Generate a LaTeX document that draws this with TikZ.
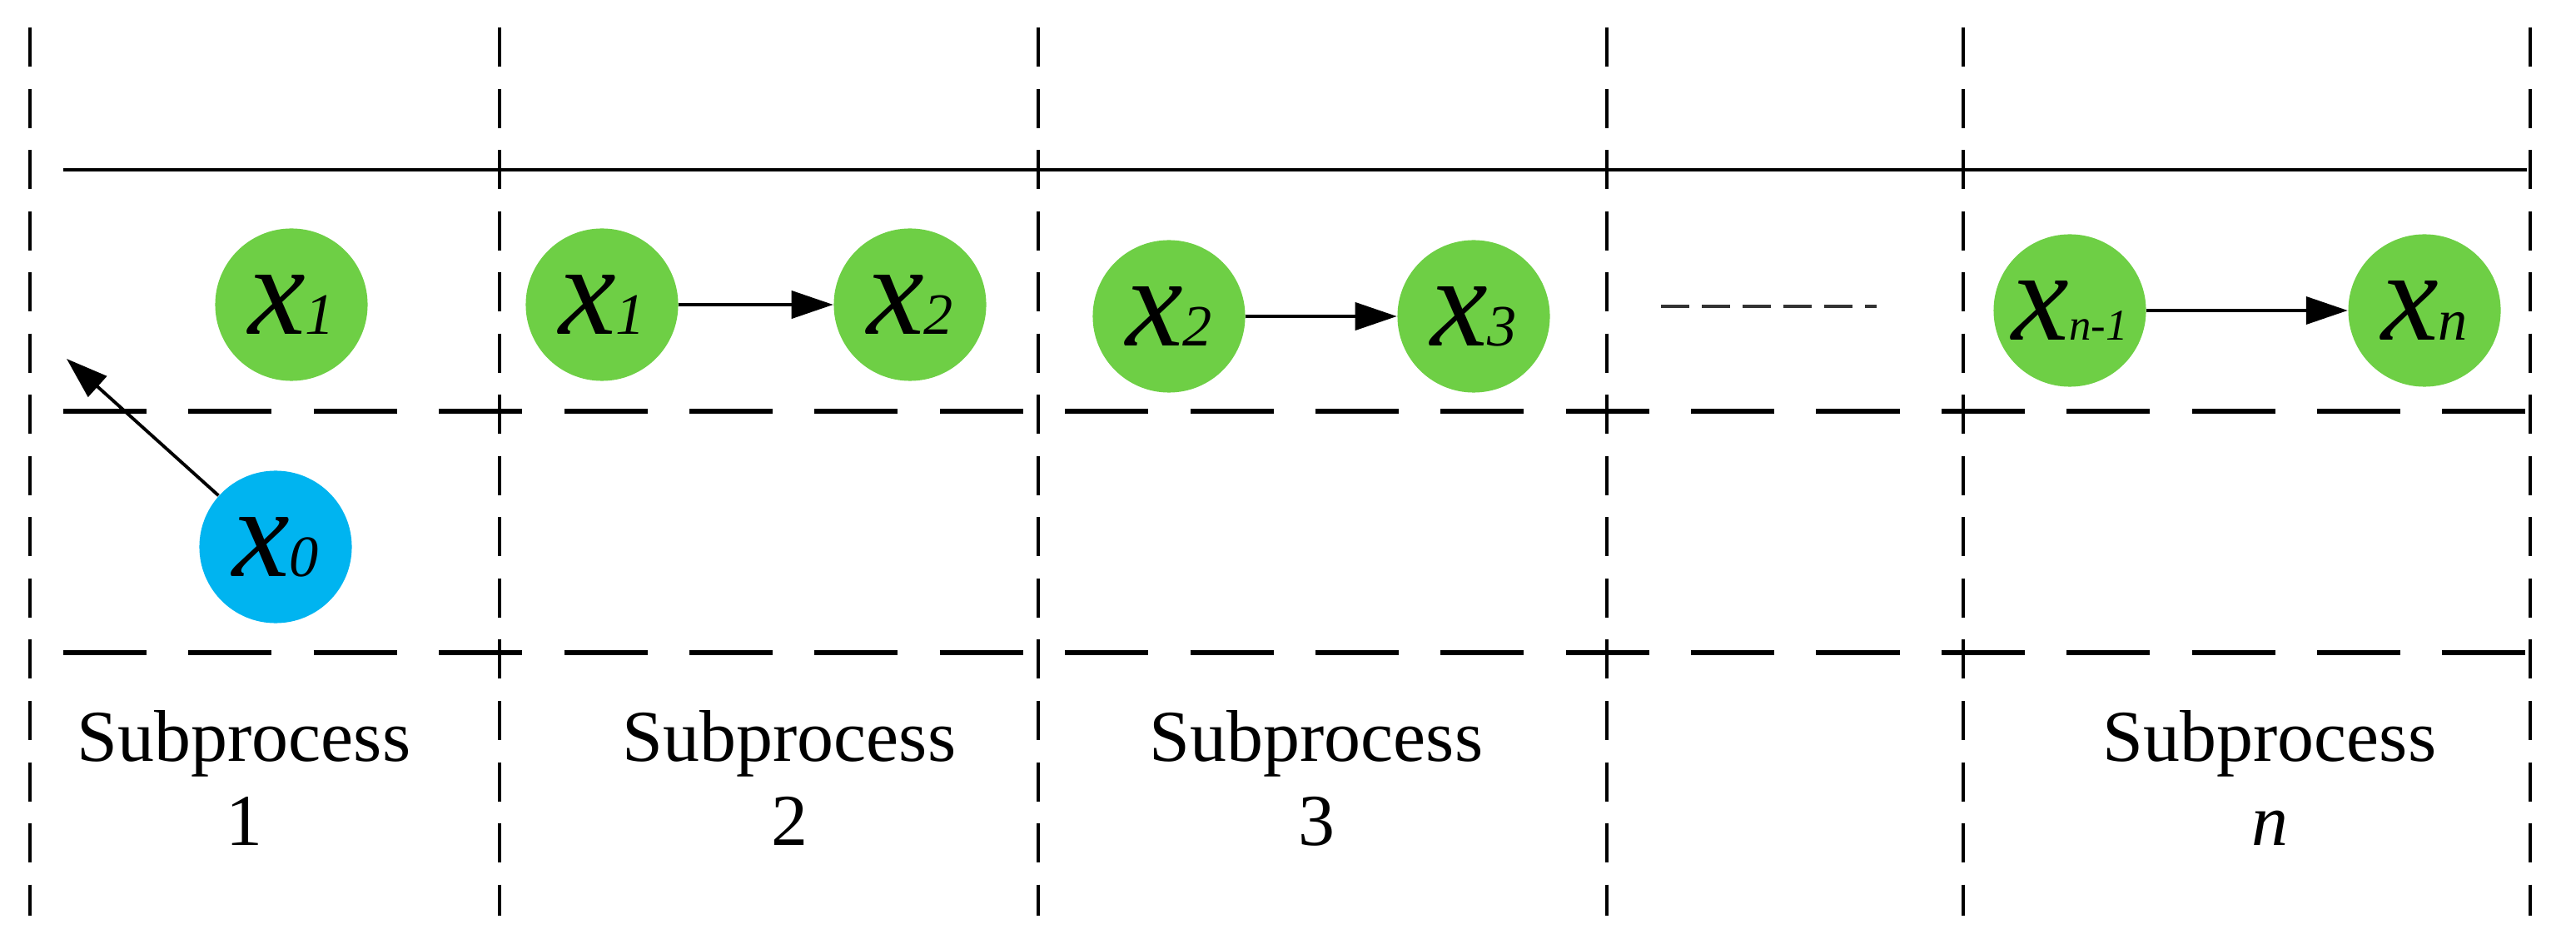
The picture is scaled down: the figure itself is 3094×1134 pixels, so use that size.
\documentclass[tikz,border=0pt]{standalone}
\usepackage{fontspec}
\setmainfont{Liberation Serif}
\usetikzlibrary{arrows.meta}
\definecolor{ngreen}{HTML}{6ECF45}
\definecolor{nblue}{HTML}{00B4F0}
\newcommand{\xv}[2][20]{{\fontsize{44}{44}\selectfont\itshape x}{\fontsize{#1}{#1}\selectfont\itshape #2}}
\begin{document}
\begin{tikzpicture}[x=0.01cm,y=-0.01cm,
  state/.style={circle,inner sep=0pt,minimum size=1.83cm},
  gstate/.style={state,fill=ngreen},
  bstate/.style={state,fill=nblue},
  flow/.style={-{Triangle[length=5mm,width=3.3mm]},line width=1.1pt},
  vgrid/.style={line width=1.1pt,dash pattern=on 0.47cm off 0.265cm},
  hgrid/.style={line width=1.5pt,dash pattern=on 1.0cm off 0.503cm},
  sublabel/.style={align=center,font=\fontsize{25}{28.45}\selectfont,anchor=base}]
\useasboundingbox (0,0) rectangle (3094,1134);
% grid
\foreach \x in {36,600,1247,1930,2358,3039}
  \draw[vgrid] (\x,33) -- (\x,1100);
\draw[line width=1.4pt] (76,204) -- (3035,204);
\draw[hgrid] (76,494) -- (3033,494);
\draw[hgrid] (76,784) -- (3033,784);
% subprocess 1
\node[gstate] (a1) at (350,366) {\xv{1}};
\node[bstate] (a0) at (331,657) {\xv{0}};
\coordinate (a0tip) at (80,431);
\draw[flow] (a0) -- (a0tip);
% subprocess 2
\node[gstate] (b1) at (723,366) {\xv{1}};
\node[gstate] (b2) at (1093,366) {\xv{2}};
\draw[flow] (b1) -- (b2);
% subprocess 3
\node[gstate] (c2) at (1404,380) {\xv{2}};
\node[gstate] (c3) at (1770,380) {\xv{3}};
\draw[flow] (c2) -- (c3);
% ellipsis
\coordinate (dl) at (1995,368);
\coordinate (dr) at (2254,368);
\draw[line width=1.1pt,dash pattern=on 0.34cm off 0.15cm,black!80] (dl) -- (dr);
% subprocess n
\node[gstate] (nm1) at (2486,373) {\xv[15]{n-1}};
\node[gstate] (nn) at (2912,373) {\xv{n}};
\draw[flow] (nm1) -- (nn);
% labels
\node[sublabel] (l1) at (293,1015) {Subprocess\\1};
\node[sublabel] (l2) at (948,1015) {Subprocess\\2};
\node[sublabel] (l3) at (1581,1015) {Subprocess\\3};
\node[sublabel] (ln) at (2726,1015) {Subprocess\\\textit{n}};
\end{tikzpicture}
\end{document}
